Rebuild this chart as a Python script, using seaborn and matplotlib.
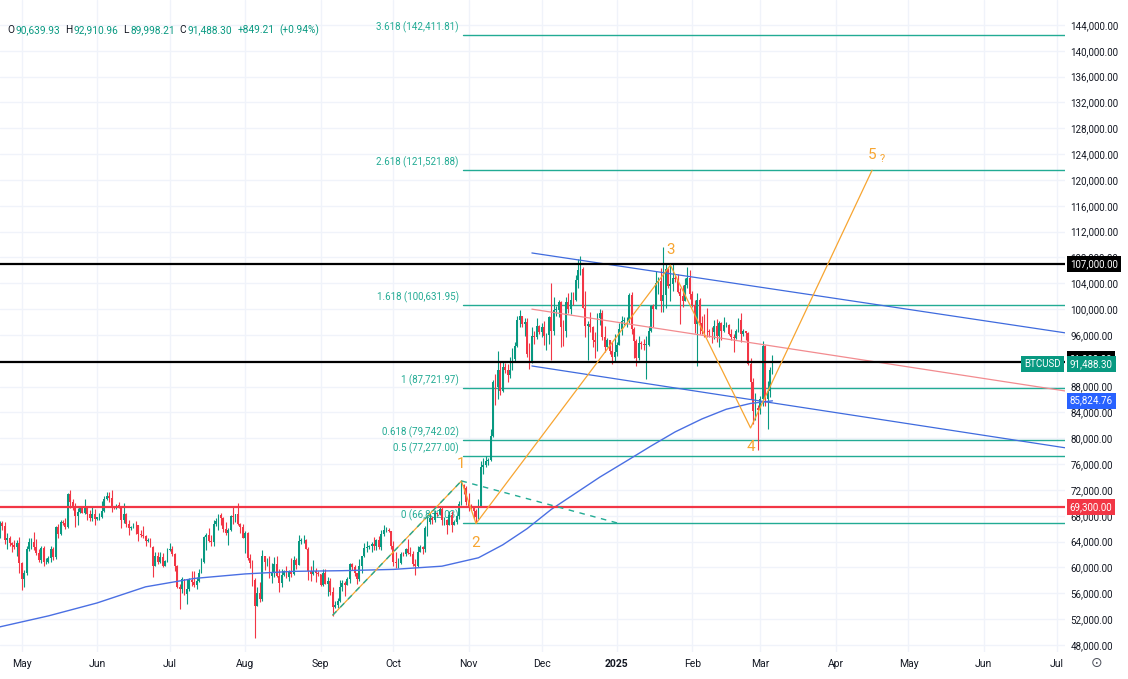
import matplotlib
matplotlib.use("Agg")
import matplotlib.pyplot as plt
import matplotlib.dates as mdates
import pandas as pd
import seaborn as sns

# daily BTCUSD candles, 2024-04-22 .. 2025-03-06, in thousands of USD
# (crypto trades 24/7, so each open is the previous close)
first_open = 64.95
closes = [
    # Apr 22-30
    66.84, 66.40, 64.30, 64.50, 63.80, 63.45, 63.10, 63.85, 60.65,
    # May
    58.25, 59.10, 62.90, 63.90, 64.00, 63.15, 62.30, 61.20, 63.05, 60.80,
    60.80, 61.45, 62.90, 61.55, 66.25, 65.25, 67.05, 66.95, 66.25, 71.45,
    70.15, 69.15, 67.95, 68.55, 69.30, 68.50, 69.40, 68.35, 67.65, 68.35, 67.50,
    # Jun
    67.75, 67.80, 68.80, 70.55, 71.10, 70.80, 69.35, 69.30, 69.65, 69.50,
    67.30, 68.25, 66.75, 66.05, 66.20, 66.65, 66.50, 65.15, 64.95, 64.85,
    64.10, 64.25, 63.20, 60.30, 61.80, 60.85, 61.60, 60.30, 60.95, 62.70,
    # Jul
    62.85, 62.05, 60.20, 57.05, 56.65, 58.25, 55.85, 56.70, 58.00, 57.75,
    57.35, 57.90, 59.20, 60.80, 64.75, 65.05, 64.10, 63.95, 66.70, 67.15,
    68.15, 67.60, 65.95, 65.40, 65.80, 67.90, 67.85, 68.25, 66.80, 66.20, 64.60,
    # Aug
    65.35, 61.45, 60.70, 58.10, 54.00, 56.05, 55.10, 61.70, 60.85, 60.90,
    58.70, 59.35, 60.60, 58.70, 57.55, 58.90, 59.45, 58.45, 59.50, 59.00,
    61.15, 60.40, 64.10, 64.20, 64.25, 62.85, 59.50, 59.05, 59.40, 59.15, 58.95,
    # Sep
    57.30, 59.15, 57.50, 57.95, 56.15, 53.95, 54.15, 54.85, 57.05, 57.65,
    57.35, 58.15, 60.55, 60.00, 59.15, 58.20, 60.30, 61.75, 62.95, 63.20,
    63.35, 63.60, 63.35, 64.25, 63.15, 65.15, 65.80, 65.85, 65.60, 63.30,
    # Oct
    60.80, 60.65, 60.75, 62.10, 62.05, 62.80, 62.25, 62.15, 60.60, 60.30,
    62.45, 63.20, 62.85, 66.05, 67.00, 67.60, 67.35, 68.40, 68.35, 69.00,
    67.35, 67.40, 66.65, 68.15, 66.60, 67.00, 67.95, 69.90, 72.70, 72.35, 70.20,
    # Nov
    69.50, 69.35, 68.75, 67.80, 69.35, 75.60, 75.90, 76.55, 76.65, 80.40,
    88.70, 88.00, 90.50, 87.30, 91.05, 90.60, 89.85, 90.50, 92.35, 94.30,
    98.30, 98.95, 97.70, 98.00, 93.00, 91.95, 95.90, 95.65, 97.45, 96.40,
    # Dec
    97.20, 95.85, 96.00, 98.75, 96.60, 99.90, 99.90, 101.15, 97.30, 96.60,
    101.15, 100.00, 101.45, 101.40, 104.45, 106.05, 106.15, 100.20, 97.45, 97.75,
    97.25, 95.15, 94.90, 98.65, 99.35, 95.70, 94.20, 95.15, 93.55, 92.65, 93.40,
    # Jan
    94.40, 96.90, 98.10, 98.25, 98.35, 102.25, 96.95, 95.05, 92.50, 94.70,
    94.55, 94.50, 94.50, 96.55, 100.50, 99.95, 104.10, 104.40, 101.20, 102.25,
    106.15, 103.65, 103.95, 104.80, 104.70, 102.60, 102.05, 101.30, 103.70, 104.75, 102.40,
    # Feb
    100.65, 97.65, 101.40, 97.85, 96.65, 96.60, 96.55, 96.50, 96.45, 97.40,
    95.80, 97.85, 96.60, 97.50, 97.55, 96.15, 95.75, 95.55, 96.65, 98.35,
    96.15, 96.55, 96.25, 91.55, 88.65, 84.25, 84.70, 84.35,
    # Mar 1-6
    86.05, 94.30, 86.10, 87.25, 90.64, 91.4883,
]
highs = [
    67.20, 67.20, 67.10, 65.30, 64.80, 63.90, 64.30, 64.20, 64.70,
    60.80, 59.60, 63.30, 64.50, 64.60, 65.50, 64.40, 62.90, 63.40, 63.40,
    61.40, 61.80, 63.40, 63.10, 66.45, 66.70, 67.40, 67.40, 67.70, 71.50,
    71.95, 70.65, 70.05, 69.20, 69.55, 69.50, 70.60, 69.55, 68.90, 69.50, 69.00,
    67.85, 68.40, 70.25, 71.05, 71.75, 71.65, 71.95, 69.50, 69.90, 70.15,
    69.55, 69.95, 68.45, 67.30, 66.45, 66.95, 67.25, 66.60, 65.75, 66.45,
    65.05, 64.55, 64.50, 63.35, 62.35, 62.45, 62.35, 62.20, 61.20, 63.00,
    63.85, 63.25, 62.25, 60.45, 57.50, 58.50, 58.25, 58.20, 58.30, 59.45,
    59.45, 58.50, 59.80, 61.40, 64.85, 65.35, 66.10, 65.10, 67.40, 67.60,
    68.35, 68.45, 67.80, 67.10, 66.10, 68.20, 69.40, 68.30, 70.00, 66.95, 66.75,
    65.60, 65.50, 62.15, 61.10, 58.30, 57.05, 57.70, 62.70, 61.75, 61.45,
    61.85, 60.70, 61.55, 61.75, 59.80, 59.80, 59.65, 60.25, 59.60, 61.40,
    61.80, 61.40, 64.95, 64.50, 65.00, 64.45, 63.20, 60.25, 61.15, 59.90, 59.45,
    59.05, 59.80, 59.80, 58.50, 58.30, 56.95, 54.85, 55.30, 58.05, 58.00,
    57.90, 58.60, 60.65, 60.65, 60.40, 59.20, 61.35, 61.80, 63.85, 64.10,
    63.55, 63.95, 64.75, 64.45, 64.80, 65.80, 66.50, 66.25, 66.05, 65.60,
    64.10, 62.40, 61.45, 62.45, 62.35, 62.95, 64.45, 63.20, 62.50, 61.30,
    63.40, 63.45, 63.30, 66.45, 67.90, 68.40, 67.90, 68.95, 68.65, 69.40,
    69.50, 67.80, 67.45, 68.80, 68.75, 67.40, 68.20, 70.25, 73.60, 72.95, 72.65,
    71.60, 69.90, 69.35, 69.00, 70.55, 76.45, 76.95, 77.30, 76.90, 81.50,
    89.00, 89.95, 93.45, 91.80, 91.85, 91.70, 91.55, 92.60, 94.00, 94.85,
    98.95, 99.80, 98.90, 98.70, 98.60, 94.70, 97.30, 96.65, 98.70, 97.55,
    97.85, 98.15, 96.30, 99.00, 104.00, 101.90, 100.55, 101.40, 101.25, 98.25,
    101.90, 102.55, 102.65, 102.65, 105.25, 107.80, 108.30, 106.45, 102.80, 98.15,
    99.55, 97.40, 96.45, 99.45, 99.95, 99.90, 97.35, 95.50, 95.20, 94.90, 96.10,
    94.95, 97.80, 98.95, 98.75, 98.80, 102.50, 102.70, 97.25, 95.35, 95.80,
    95.00, 95.35, 95.90, 97.35, 100.70, 100.85, 105.90, 104.95, 106.30, 109.60,
    107.20, 106.30, 106.85, 107.10, 105.30, 105.45, 103.25, 103.75, 104.80, 106.45, 106.00,
    102.75, 101.45, 102.50, 101.75, 99.00, 99.20, 100.15, 96.90, 97.30, 98.30,
    98.50, 98.10, 98.00, 98.80, 97.95, 97.70, 97.00, 96.20, 96.85, 98.70,
    99.45, 96.90, 96.65, 96.50, 92.50, 89.30, 87.00, 85.10,
    86.55, 95.00, 94.40, 88.90, 91.00, 92.911,
]
lows = [
    64.50, 65.80, 63.60, 62.80, 63.30, 62.40, 62.80, 61.80, 59.20,
    56.55, 56.95, 58.90, 62.60, 62.90, 62.75, 62.00, 60.90, 60.70, 60.20,
    60.50, 60.65, 60.80, 61.10, 61.30, 64.60, 65.10, 66.60, 65.90, 66.10,
    69.20, 68.85, 66.30, 66.65, 68.50, 68.40, 68.30, 67.30, 67.15, 67.15, 66.65,
    67.40, 67.30, 67.60, 68.55, 70.40, 70.15, 68.55, 69.05, 69.10, 69.25,
    66.15, 66.95, 66.30, 65.10, 65.85, 66.05, 65.15, 64.10, 64.70, 64.60,
    63.40, 63.95, 63.15, 58.45, 60.30, 60.60, 60.70, 60.05, 60.30, 60.80,
    62.50, 61.80, 59.45, 56.80, 53.50, 56.10, 55.80, 54.30, 56.30, 57.20,
    57.05, 56.60, 57.80, 59.20, 60.70, 62.70, 63.90, 63.30, 63.35, 66.40,
    65.80, 66.60, 65.45, 65.10, 63.45, 65.70, 66.70, 67.05, 66.60, 65.35, 64.50,
    62.30, 61.20, 59.90, 57.20, 49.05, 54.00, 54.60, 54.80, 59.60, 60.30,
    58.35, 57.65, 58.45, 58.45, 56.15, 57.05, 58.75, 58.40, 57.85, 58.60,
    58.80, 59.80, 60.35, 63.60, 63.80, 62.80, 58.10, 57.85, 58.80, 57.75, 58.75,
    57.20, 57.15, 57.45, 55.60, 55.70, 52.55, 53.75, 53.65, 54.60, 56.40,
    55.55, 57.30, 57.65, 59.60, 58.70, 57.50, 57.95, 59.20, 61.60, 62.40,
    62.80, 62.40, 62.70, 62.70, 62.85, 62.70, 64.85, 65.45, 65.45, 62.90,
    60.20, 59.95, 59.85, 60.50, 61.70, 61.85, 62.10, 61.85, 60.30, 58.90,
    60.10, 62.45, 62.05, 62.40, 64.85, 66.70, 66.70, 67.10, 68.00, 68.10,
    66.60, 66.60, 65.25, 66.50, 65.55, 66.55, 66.80, 67.55, 69.70, 71.45, 69.70,
    68.80, 69.00, 67.45, 66.83, 67.45, 69.35, 74.45, 75.60, 75.80, 76.50,
    80.20, 85.10, 86.10, 86.65, 87.10, 90.05, 88.75, 89.40, 90.65, 91.80,
    94.10, 97.25, 97.20, 95.80, 92.60, 90.80, 91.70, 94.65, 95.40, 96.10,
    95.70, 94.40, 93.60, 94.65, 92.15, 95.95, 99.00, 98.80, 94.20, 94.25,
    95.70, 99.35, 99.20, 100.65, 101.25, 103.30, 105.35, 100.10, 95.70, 92.15,
    96.40, 94.20, 92.45, 93.50, 97.60, 95.20, 93.40, 94.10, 93.05, 91.55, 92.00,
    92.80, 94.40, 96.00, 97.55, 97.30, 97.90, 96.15, 92.50, 91.20, 92.20,
    93.85, 93.70, 89.25, 94.30, 96.50, 97.30, 99.95, 102.30, 99.60, 99.50,
    100.10, 103.25, 101.25, 102.75, 104.15, 102.45, 97.75, 100.30, 101.30, 103.30, 101.55,
    100.30, 96.25, 91.20, 96.15, 96.15, 95.70, 95.65, 95.70, 94.75, 95.30,
    94.85, 94.10, 95.25, 96.40, 97.25, 96.05, 95.25, 93.40, 95.40, 96.45,
    94.85, 95.80, 95.25, 91.35, 86.05, 82.25, 82.80, 78.25,
    83.80, 85.05, 85.05, 81.50, 86.45, 89.998,
]

# 200-day moving average
ma_dates = ["2024-04-22", "2024-05-12", "2024-06-01", "2024-06-21", "2024-07-11",
            "2024-08-01", "2024-08-21", "2024-09-10", "2024-10-01", "2024-10-21",
            "2024-11-05", "2024-11-15", "2024-11-25", "2024-12-05", "2024-12-15",
            "2024-12-25", "2025-01-05", "2025-01-15", "2025-01-25", "2025-02-05",
            "2025-02-15", "2025-02-25", "2025-03-06"]
ma_values = [50.8, 52.5, 54.5, 57.0, 58.3, 59.0, 59.4, 59.5, 59.7, 60.2,
             61.5, 63.5, 66.0, 69.0, 71.5, 74.0, 76.5, 78.8, 81.0, 83.0,
             84.5, 85.4, 85.8]

# fib extension levels
fib_ratios = ["0", "0.5", "0.618", "1", "1.618", "2.618", "3.618"]
fib_prices = [66832.03, 77277.00, 79742.02, 87721.97, 100631.95, 121521.88, 142411.81]
fib_start = "2024-10-29 14:00"
fib_dash_dates = ["2024-10-29", "2025-01-02"]
fib_dash_prices = [73.4, 66.8]

# elliott wave path (start point + waves 1..5)
wave_labels = ["", "1", "2", "3", "4", "5"]
wave_dates = ["2024-09-06", "2024-10-29", "2024-11-04", "2025-01-23", "2025-02-25", "2025-04-16"]
wave_prices = [52.6, 73.4, 66.8, 106.8, 81.6, 121.5]
wave_offsets = [0, 12, -14, 11, -14, 11]

# channel
chan_dates = ["2024-11-27", "2025-07-05"]
chan_upper = [108.7, 96.3]
chan_mid = [100.0, 87.3]
chan_lower = [91.2, 78.5]

# horizontal levels
black_levels = [107000.0, 91800.0]
red_level = 69300.0
last_price = 91488.30
ma_last = 85824.76

# header values
header = [("O", "90,639.93"), ("H", "92,910.96"), ("L", "89,998.21"), ("C", "91,488.30"),
          ("", "+849.21"), ("", "(+0.94%)")]

months = pd.date_range("2024-05-01", "2025-07-01", freq="MS")
month_labels = ["2025" if m.month == 1 else m.strftime("%b") for m in months]

GREEN = "#089981"
RED = "#f23645"
FIB = "#22ab94"
ORANGE = "#f7a531"
BLUE = "#3f6bde"
TXT = "#131722"

sns.set_theme(style="white")
plt.rcParams["font.family"] = ["Roboto", "DejaVu Sans"]

fig = plt.figure(figsize=(11.28, 6.79), dpi=100)
ax = fig.add_axes([0, 27 / 679, 1065 / 1128, 652 / 679])

n = min(len(closes), len(highs), len(lows))
dates = pd.date_range("2024-04-22", periods=n, freq="D")
df = pd.DataFrame({"date": dates, "close": closes[:n], "high": highs[:n], "low": lows[:n]})
df["open"] = [first_open] + closes[:n - 1]
for c in ["open", "close", "high", "low"]:
    df[c] = df[c] * 1000
df["high"] = df[["high", "open", "close"]].max(axis=1)
df["low"] = df[["low", "open", "close"]].min(axis=1)
up = df["close"] >= df["open"]
colors = [GREEN if u else RED for u in up]
xd = mdates.date2num(df["date"])

# grid
for m in months:
    ax.axvline(m, color="#f0f3fa", lw=1, zorder=0)
yt = list(range(48000, 144001, 4000))
for y in yt:
    ax.axhline(y, color="#f0f3fa", lw=1, zorder=0)

# fib levels
fx0 = pd.Timestamp(fib_start)
for r, p in zip(fib_ratios, fib_prices):
    ax.plot([fx0, pd.Timestamp("2025-07-10")], [p, p], color=FIB, lw=1, zorder=1)
    ax.annotate(f"{r} ({p:,.2f})", xy=(fx0, p), xytext=(-3, 1.5), textcoords="offset points",
                ha="right", va="bottom", fontsize=7, color=FIB, zorder=1)

# candles
ax.vlines(xd, df["low"], df["high"], colors=colors, lw=0.8, zorder=3)
body = (df["close"] - df["open"]).abs().clip(lower=60)
ax.bar(xd, body, bottom=df[["open", "close"]].min(axis=1), width=0.75,
       color=colors, linewidth=0, zorder=3)

# moving average
ma = pd.DataFrame({"date": pd.to_datetime(ma_dates), "value": [v * 1000 for v in ma_values]})
sns.lineplot(data=ma, x="date", y="value", color="#4a6fe3", lw=1, ax=ax, zorder=4)

# channel
ch = pd.DataFrame({"date": pd.to_datetime(chan_dates),
                   "upper": [v * 1000 for v in chan_upper],
                   "mid": [v * 1000 for v in chan_mid],
                   "lower": [v * 1000 for v in chan_lower]})
sns.lineplot(data=ch, x="date", y="upper", color=BLUE, lw=0.9, ax=ax, zorder=4)
sns.lineplot(data=ch, x="date", y="lower", color=BLUE, lw=0.9, ax=ax, zorder=4)
sns.lineplot(data=ch, x="date", y="mid", color="#f28b8f", lw=0.9, ax=ax, zorder=4)

# horizontal levels
for lv in black_levels:
    ax.axhline(lv, color="black", lw=1.6, zorder=5)
ax.axhline(red_level, color=RED, lw=1.6, zorder=5)

# wave path
wv = pd.DataFrame({"date": pd.to_datetime(wave_dates), "price": [v * 1000 for v in wave_prices]})
sns.lineplot(data=wv, x="date", y="price", color=ORANGE, lw=0.9, ax=ax, zorder=6, sort=False)
ax.plot(wv["date"][:2], wv["price"][:2], color=FIB, lw=1, ls=(0, (4, 4)), zorder=6)
ax.plot(pd.to_datetime(fib_dash_dates), [v * 1000 for v in fib_dash_prices],
        color=FIB, lw=1, ls=(0, (4, 4)), zorder=6)
for lab, d, p, off in zip(wave_labels, wv["date"], wv["price"], wave_offsets):
    if lab:
        ax.annotate(lab, xy=(d, p), xytext=(0, off), textcoords="offset points",
                    ha="center", va="center", fontsize=11, color=ORANGE, zorder=7)
ax.annotate("?", xy=(wv["date"].iloc[-1], wv["price"].iloc[-1]), xytext=(7, 8),
            textcoords="offset points", ha="center", va="center", fontsize=8,
            color=ORANGE, zorder=7)

# axes
ax.set_xlim(pd.Timestamp("2024-04-22 02:00"), pd.Timestamp("2025-07-04 10:00"))
ax.set_ylim(46909, 147871)
ax.yaxis.tick_right()
ax.set_yticks(yt)
# 92,000 sits under the last-price tag, so its label is left blank
ax.set_yticklabels(["" if y == 92000 else f"{y:,.2f}" for y in yt])
ax.set_xticks(months)
ax.set_xticklabels(month_labels)
for lbl in ax.get_xticklabels():
    if lbl.get_text() == "2025":
        lbl.set_fontweight("bold")
ax.tick_params(axis="y", length=0, pad=4, labelsize=7, labelcolor=TXT)
ax.tick_params(axis="x", length=0, pad=5, labelsize=7.5, labelcolor=TXT)
ax.set_xlabel("")
ax.set_ylabel("")
for s in ax.spines.values():
    s.set_visible(False)


def price_tag(y, text, bg, fg="white", side="right", dy=0):
    if side == "right":
        ax.annotate(text, xy=(1.0, y), xycoords=("axes fraction", "data"), xytext=(3.5, dy),
                    textcoords="offset points", ha="left", va="center", fontsize=7, color=fg,
                    bbox=dict(boxstyle="square,pad=0.3", fc=bg, ec="none"),
                    annotation_clip=False, zorder=20)
    else:
        ax.annotate(text, xy=(1.0, y), xycoords=("axes fraction", "data"), xytext=(-3, dy),
                    textcoords="offset points", ha="right", va="center", fontsize=7, color=fg,
                    bbox=dict(boxstyle="square,pad=0.3", fc=bg, ec="none"),
                    annotation_clip=False, zorder=20)


price_tag(black_levels[0], f"{black_levels[0]:,.2f}", "black")
price_tag(black_levels[1], f"{black_levels[1]:,.2f}", "black", dy=2)
price_tag(last_price, f"{last_price:,.2f}", GREEN)
price_tag(last_price, "BTCUSD", GREEN, side="left")
price_tag(ma_last, f"{ma_last:,.2f}", "#2962ff")
price_tag(red_level, f"{red_level:,.2f}", RED)

# OHLC header, laid out left to right
renderer = fig.canvas.get_renderer()
xpos = 7.0
ypos = 1 - 30 / 679
for letter, value in header:
    if letter:
        t = fig.text(xpos / 1128, ypos, letter, color=TXT, fontsize=7.3, ha="left", va="center")
        xpos += t.get_window_extent(renderer).width + 1.3
    t = fig.text(xpos / 1128, ypos, value, color=GREEN, fontsize=7.3, ha="left", va="center")
    xpos += t.get_window_extent(renderer).width + 5

fig.text(1097 / 1128, 16 / 679, "⊙", color="#50535e", fontsize=10, ha="center", va="center")

fig.savefig("out.png", dpi=100)
